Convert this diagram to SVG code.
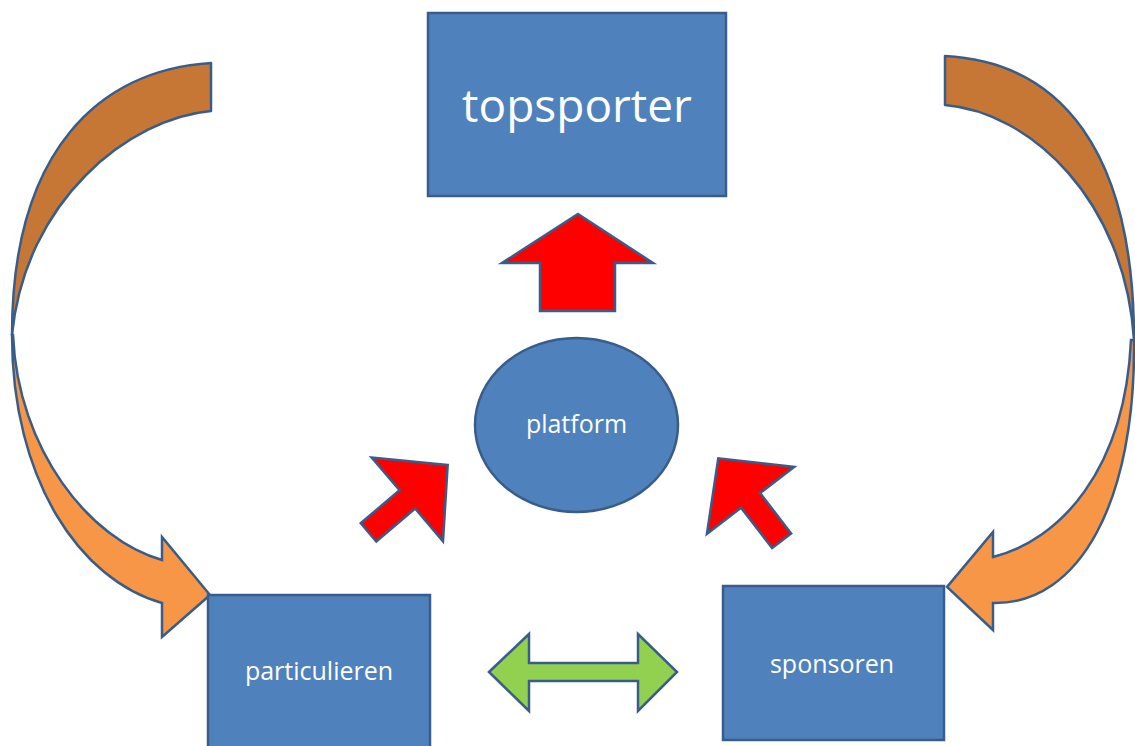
<svg xmlns="http://www.w3.org/2000/svg" width="1135" height="746" viewBox="0 0 1135 746">
<defs>
<style>
.box{fill:#4F81BD;stroke:#385D8A;stroke-width:2.5}
.lbl{fill:#FFFFFF;font-family:"Open Sans","Noto Sans",sans-serif;text-anchor:middle}
.red{fill:#FF0000;stroke:#385D8A;stroke-width:2.5;stroke-linejoin:miter}
.green{fill:#92D050;stroke:#385D8A;stroke-width:2.5}
.odark{fill:#C77735;stroke:#385D8A;stroke-width:2.5;stroke-linejoin:round}
.olight{fill:#F79646;stroke:#385D8A;stroke-width:2.5;stroke-linejoin:miter}
</style>
<polygon id="diag" points="0,0 -53,-55 -53,-12 -104,-12 -104,12 -53,12 -53,55"/>
</defs>
<rect width="1135" height="746" fill="#FFFFFF"/>

<g id="connectors">
  <!-- left curved arrow -->
  <path class="odark" d="M211,63 C100,70 12,150 12,335 C25,200 130,118 211,111 Z"/>
  <path class="olight" d="M12,335 C12,480 80,580 162,603 L162,637 L210,595 L162,537 L162,560 C90,540 18,450 13,335 Z"/>
  <!-- right curved arrow -->
  <path class="odark" d="M945,56 C1060,62 1134,150 1134,340 C1125,200 1030,112 945,105 Z"/>
  <path class="olight" d="M1134,340 C1136,500 1080,605 993,603 L993,630 L947,587 L993,532 L993,557 C1060,540 1125,470 1131,340 Z"/>
  <!-- red up arrow -->
  <polygon class="red" points="578,214 653,263 615,263 615,311 540,311 540,263 502,263"/>
  <!-- red diagonal arrows -->
  <use href="#diag" class="red" transform="translate(447.7,465) rotate(-40.4)"/>
  <use href="#diag" class="red" transform="translate(718.3,458.3) rotate(-127.5)"/>
  <!-- green double arrow -->
  <polygon class="green" points="489,672 529,634 529,663 638,663 638,634 677,672 638,711 638,681 529,681 529,711"/>
</g>

<g id="topsporter">
  <rect class="box" x="428" y="13" width="298" height="183"/>
  <text class="lbl" x="577" y="122" font-size="46">topsporter</text>
</g>

<g id="platform">
  <ellipse class="box" cx="576.5" cy="425" rx="101.5" ry="87"/>
  <text class="lbl" x="576.5" y="433" font-size="25">platform</text>
</g>

<g id="particulieren">
  <rect class="box" x="208" y="595" width="222" height="155"/>
  <text class="lbl" x="319" y="680" font-size="25">particulieren</text>
</g>

<g id="sponsoren">
  <rect class="box" x="723" y="586" width="221" height="154"/>
  <text class="lbl" x="832" y="673" font-size="25">sponsoren</text>
</g>
</svg>
